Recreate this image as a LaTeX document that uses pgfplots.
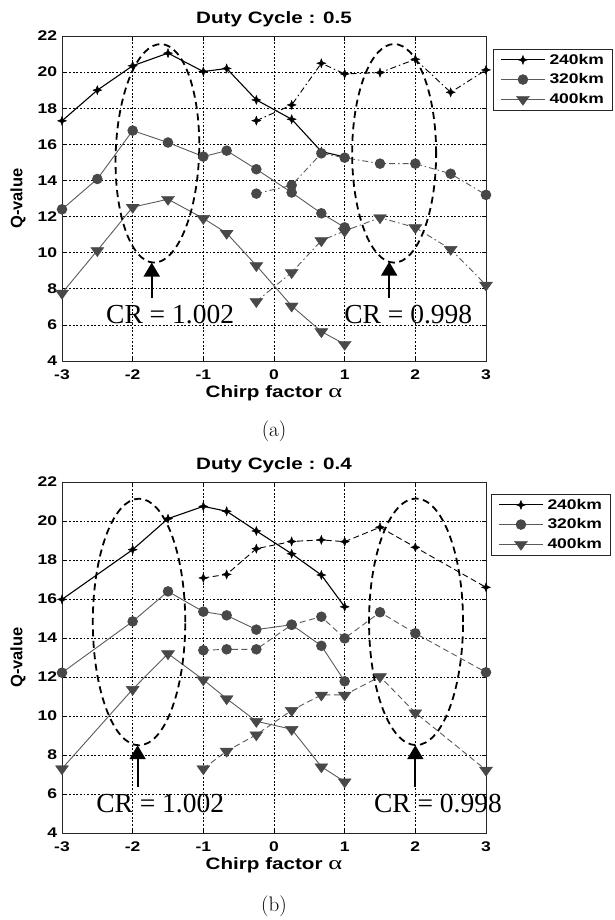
\documentclass[border=0pt]{standalone}
\usepackage{pgfplots}
\pgfplotsset{compat=1.18}
\usepackage{fontspec}
\usetikzlibrary{arrows.meta}

% MATLAB-like wide sans for ticks, titles and legend
\newfontfamily\matfont[FakeStretch=1.25]{Liberation Sans Bold}
\newfontfamily\matfontplain{Liberation Sans Bold}
\newfontfamily\crfont{Liberation Serif}
\newfontfamily\greekfont[FakeStretch=1.4]{Liberation Serif}

\newcommand\tickfont{\matfont\fontsize{14}{16}\selectfont}
\newcommand\titlefont{\matfont\fontsize{16.5}{18}\selectfont}
\newcommand\legfont{\matfont\fontsize{14}{16}\selectfont}
\newcommand\qfont{\matfontplain\fontsize{16.5}{18}\selectfont}
\newcommand\crsize{\crfont\fontsize{27.5}{30}\selectfont}

\definecolor{mk}{RGB}{72,72,72}
\definecolor{ln}{RGB}{90,90,90}

% four-pointed star marker for the 240 km series
\pgfdeclareplotmark{spark}{%
  \pgfpathmoveto{\pgfqpoint{0pt}{\pgfplotmarksize}}%
  \pgfpathlineto{\pgfqpoint{0.28\pgfplotmarksize}{0.28\pgfplotmarksize}}%
  \pgfpathlineto{\pgfqpoint{\pgfplotmarksize}{0pt}}%
  \pgfpathlineto{\pgfqpoint{0.28\pgfplotmarksize}{-0.28\pgfplotmarksize}}%
  \pgfpathlineto{\pgfqpoint{0pt}{-\pgfplotmarksize}}%
  \pgfpathlineto{\pgfqpoint{-0.28\pgfplotmarksize}{-0.28\pgfplotmarksize}}%
  \pgfpathlineto{\pgfqpoint{-\pgfplotmarksize}{0pt}}%
  \pgfpathlineto{\pgfqpoint{-0.28\pgfplotmarksize}{0.28\pgfplotmarksize}}%
  \pgfpathclose
  \pgfusepathqfillstroke}
% flat downward triangle for the 400 km series
\pgfdeclareplotmark{dtri}{%
  \pgfpathmoveto{\pgfqpoint{-\pgfplotmarksize}{0.45\pgfplotmarksize}}%
  \pgfpathlineto{\pgfqpoint{\pgfplotmarksize}{0.45\pgfplotmarksize}}%
  \pgfpathlineto{\pgfqpoint{0pt}{-0.95\pgfplotmarksize}}%
  \pgfpathclose
  \pgfusepathqfillstroke}

\tikzset{
  ell/.style={black, line width=1.8pt, dash pattern=on 7pt off 4.5pt},
  arr/.style={black, line width=2pt, -{Triangle[length=14pt,width=16pt]}},
  crtext/.style={font=\crsize, inner sep=0pt},
}

\pgfplotsset{
  qaxis/.style={
    scale only axis, width=424pt, anchor=south west,
    xmin=-3, xmax=3, ymin=4, ymax=22,
    xtick={-3,-2,-1,0,1,2,3}, ytick={4,6,8,10,12,14,16,18,20,22},
    xticklabels={-3,-2,-1,0,1,2,3},
    yticklabels={4,6,8,10,12,14,16,18,20,22},
    grid=major,
    major grid style={black, line width=0.6pt, dash pattern=on 1.8pt off 1.8pt},
    tick align=inside, major tick length=4pt,
    tick style={black, line width=0.7pt},
    axis line style={black!85, line width=0.9pt},
    ticklabel style={font=\tickfont},
    xticklabel style={anchor=base, yshift=-19pt},
    yticklabel style={anchor=east, inner sep=0pt, xshift=-4.7pt},
    title style={font=\titlefont, at={(0.5,1)}, anchor=center},
    xlabel={Chirp factor {\greekfont\mdseries\fontsize{19}{19}\selectfont α}},
    xlabel style={font=\titlefont, at={(0.5,0)}, anchor=base, yshift=-36.7pt},
    ylabel={Q-value},
    ylabel style={font=\qfont, at={(-0.1038,0.5)}, anchor=center},
    clip=false,
    legend entries={240km,320km,400km},
    legend cell align=left,
    legend style={anchor=north west, draw=black!85, line width=0.8pt,
      font=\legfont, inner xsep=7pt, inner ysep=4pt, row sep=6pt,
      column sep=3pt, nodes={inner sep=1pt}, yshift=-7pt},
    legend image code/.code={%
      \draw[mark repeat=2, mark phase=2, #1]
        plot coordinates {(0pt,0pt) (22pt,0pt) (44pt,0pt)};},
  },
  s240/.style={black, line width=1.1pt, mark=spark, mark size=4.5pt,
    mark options={solid, fill=black, line width=0.4pt}},
  s320/.style={ln, line width=0.9pt, mark=*, mark size=4.8pt,
    mark options={solid, fill=mk, draw=mk}},
  s400/.style={ln, line width=0.9pt, mark=dtri, mark size=6.5pt,
    mark options={solid, fill=mk, draw=mk, line width=0.4pt}},
  dd/.style={dash pattern=on 6pt off 3pt on 1.5pt off 3pt},
  dsh/.style={dash pattern=on 6pt off 3.5pt},
}

\begin{document}
\begin{tikzpicture}
\path[use as bounding box] (0,0) rectangle (615pt,920pt);

% ---------------- (a) duty cycle 0.5 ----------------
\begin{axis}[qaxis, at={(62pt,559pt)}, height=325pt,
  title={Duty Cycle : 0.5}, title style={yshift=11pt},
  legend style={at={(1.0165,0.9825)}}]
\addplot[s240] coordinates {(-3,17.3) (-2.5,19.0) (-2,20.35) (-1.5,21.05) (-1,20.03) (-0.67,20.2) (-0.25,18.46) (0.25,17.39) (0.67,15.6) (1,15.3)};
\addplot[s320] coordinates {(-3,12.4) (-2.5,14.08) (-2,16.76) (-1.5,16.1) (-1,15.32) (-0.67,15.65) (-0.25,14.62) (0.25,13.33) (0.67,12.18) (1,11.4)};
\addplot[s400] coordinates {(-3,7.76) (-2.5,10.12) (-2,12.52) (-1.5,12.96) (-1,11.9) (-0.67,11.08) (-0.25,9.29) (0.25,7.05) (0.67,5.63) (1,4.93)};
\addplot[s240, dd, line width=0.9pt, forget plot] coordinates {(-0.25,17.31) (0.25,18.18) (0.67,20.49) (1,19.9) (1.5,19.97) (2,20.71) (2.5,18.88) (3,20.12)};
\addplot[s320, dd, forget plot] coordinates {(-0.25,13.27) (0.25,13.73) (0.67,15.5) (1,15.26) (1.5,14.93) (2,14.93) (2.5,14.37) (3,13.2)};
\addplot[s400, dd, forget plot] coordinates {(-0.25,7.3) (0.25,8.9) (0.67,10.67) (1,11.2) (1.5,11.94) (2,11.39) (2.5,10.19) (3,8.21)};
\draw[ell, rotate around={-2:(axis cs:-1.65,15.5)}] (axis cs:-1.65,15.5) ellipse [x radius=41.7pt, y radius=109.3pt];
\draw[ell] (axis cs:1.70,15.5) ellipse [x radius=42pt, y radius=109.3pt];
\draw[arr] (axis cs:-1.73,7.48) -- (axis cs:-1.73,9.45);
\draw[arr] (axis cs:1.63,7.48) -- (axis cs:1.63,9.5);
\node[crtext] at (axis cs:-1.47,6.56) {CR = 1.002};
\node[crtext] at (axis cs:1.9,6.55) {CR = 0.998};
\end{axis}
\node[anchor=base, font=\fontsize{21}{24}\selectfont] at (274pt,483pt) {(a)};

% ---------------- (b) duty cycle 0.4 ----------------
\begin{axis}[qaxis, at={(62pt,87pt)}, height=351pt,
  title={Duty Cycle : 0.4}, title style={yshift=11pt},
  legend style={at={(1.0118,0.9866)}}]
\addplot[s240] coordinates {(-3,15.98) (-2,18.53) (-1.5,20.12) (-1,20.75) (-0.67,20.5) (-0.25,19.49) (0.25,18.32) (0.67,17.23) (1,15.6)};
\addplot[s320] coordinates {(-3,12.22) (-2,14.85) (-1.5,16.39) (-1,15.35) (-0.67,15.16) (-0.25,14.43) (0.25,14.68) (0.67,13.6) (1,11.78)};
\addplot[s400] coordinates {(-3,7.3) (-2,11.37) (-1.5,13.2) (-1,11.86) (-0.67,10.89) (-0.25,9.73) (0.25,9.32) (0.67,7.4) (1,6.63)};
\addplot[s240, dsh, line width=0.9pt, forget plot] coordinates {(-1,17.08) (-0.67,17.26) (-0.25,18.58) (0.25,18.95) (0.67,19.03) (1,18.94) (1.5,19.68) (2,18.65) (3,16.6)};
\addplot[s320, dsh, forget plot] coordinates {(-1,13.37) (-0.67,13.42) (-0.25,13.42) (0.25,14.68) (0.67,15.09) (1,13.98) (1.5,15.32) (2,14.24) (3,12.24)};
\addplot[s400, dsh, forget plot] coordinates {(-1,7.3) (-0.67,8.2) (-0.25,9.04) (0.25,10.29) (0.67,11.08) (1,11.08) (1.5,12.02) (2,10.17) (3,7.23)};
\draw[ell] (axis cs:-1.91,14.82) ellipse [x radius=46.2pt, y radius=123.3pt];
\draw[ell] (axis cs:2.01,14.83) ellipse [x radius=47pt, y radius=123.3pt];
\draw[arr] (axis cs:-1.93,6.36) -- (axis cs:-1.93,8.5);
\draw[arr] (axis cs:2.0,6.37) -- (axis cs:2.0,8.5);
\node[crtext] at (axis cs:-1.61,5.5) {CR = 1.002};
\node[crtext] at (axis cs:2.32,5.52) {CR = 0.998};
\end{axis}
\node[anchor=base, font=\fontsize{21}{24}\selectfont] at (274pt,9pt) {(b)};
\end{tikzpicture}
\end{document}
